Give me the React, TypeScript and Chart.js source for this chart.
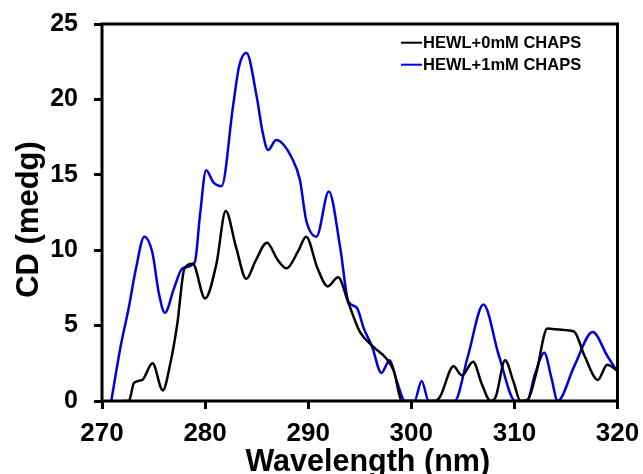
import React, { useEffect, useRef } from "react";
import { Chart, registerables } from "chart.js";

Chart.register(...registerables);

const seriesLabels = ["HEWL+0mM CHAPS", "HEWL+1mM CHAPS"];
const seriesColors = ["#000000", "#0000E0"];
const xTitle = "Wavelength (nm)";
const yTitle = "CD (medg)";

const xTicks = [270, 280, 290, 300, 310, 320];
const yTicks = [0, 5, 10, 15, 20, 25];

const blackWl = [272.0, 272.6, 273.1, 273.9, 274.9, 275.9, 276.6, 277.3, 278.0, 278.8, 280.0, 281.1, 282.0, 283.0, 284.0, 284.9, 286.0, 287.0, 287.9, 289.0, 289.8, 290.9, 291.9, 292.9, 293.9, 295.0, 296.3, 297.6, 298.3, 299.1, 300.5, 302.3, 302.8, 304.1, 304.9, 306.0, 306.8, 307.7, 308.2, 309.1, 309.9, 310.6, 311.3, 312.1, 313.2, 314.0, 315.0, 315.8, 316.8, 318.1, 319.0, 320.0];
const blackCd = [0, 0, 1.2, 1.4, 2.5, 0.7, 2.4, 5.1, 8.8, 9.1, 6.8, 9.1, 12.6, 10.2, 8.1, 9.3, 10.5, 9.4, 8.8, 9.9, 10.9, 8.8, 7.6, 8.2, 6.5, 4.6, 3.6, 2.8, 2.0, 0, 0, 0, 0.3, 2.3, 1.7, 2.6, 1.2, 0, 0.3, 2.7, 1.3, 0, 0.1, 1.8, 4.8, 4.75, 4.7, 4.6, 3.0, 1.4, 2.4, 2.0];

const blueWl = [270.9, 271.8, 272.6, 273.3, 274.1, 274.9, 275.5, 276.1, 277.0, 277.8, 279.0, 279.5, 280.1, 280.8, 281.6, 282.7, 283.3, 284.0, 285.0, 285.6, 286.1, 286.9, 288.5, 289.2, 289.8, 290.8, 292.0, 293.1, 293.9, 294.7, 295.4, 296.2, 297.1, 297.9, 298.6, 299.4, 300.3, 301.0, 301.7, 304.2, 305.5, 307.0, 308.5, 310.1, 311.2, 312.0, 312.9, 313.6, 314.2, 315.8, 317.6, 319.0, 320.0];
const blueCd = [0, 3.6, 6.2, 8.8, 10.9, 9.8, 7.2, 5.85, 7.5, 8.8, 9.2, 12.3, 15.3, 14.5, 14.25, 19.5, 22.2, 23.1, 20.2, 17.75, 16.65, 17.3, 16.0, 14.65, 12.0, 10.9, 13.9, 10.2, 6.6, 6.2, 4.8, 3.6, 1.86, 2.7, 1.3, 0, 0, 1.33, 0, 0, 3.0, 6.4, 3.0, 0, 0, 1.8, 3.2, 1.5, 0, 2.3, 4.58, 3.0, 1.93];

const FONT = '"Liberation Sans", Arial, sans-serif';

const boxLegendTitles = {
  id: "boxLegendTitles",
  afterDraw(chart: any) {
    const { ctx, chartArea } = chart;
    ctx.save();
    ctx.strokeStyle = "#000";
    ctx.lineWidth = 3;
    ctx.strokeRect(chartArea.left, chartArea.top, chartArea.right - chartArea.left, chartArea.bottom - chartArea.top);

    // legend
    const x0 = chartArea.right - 216.5;
    const rows = [chartArea.top + 18.7, chartArea.top + 40.7];
    ctx.font = `bold 16.5px ${FONT}`;
    ctx.textBaseline = "middle";
    ctx.textAlign = "left";
    chart.data.datasets.forEach((ds: any, i: number) => {
      const y = rows[i];
      ctx.strokeStyle = ds.borderColor;
      ctx.lineWidth = 2;
      ctx.beginPath();
      ctx.moveTo(x0, y);
      ctx.lineTo(x0 + 21, y);
      ctx.stroke();
      ctx.fillStyle = "#000";
      ctx.fillText(ds.label, x0 + 22, y + 1);
    });

    // axis titles
    ctx.fillStyle = "#000";
    ctx.textAlign = "center";
    ctx.textBaseline = "alphabetic";
    ctx.font = `bold 30.5px ${FONT}`;
    ctx.fillText(xTitle, chartArea.left + (chartArea.right - chartArea.left) / 2 + 8, 471);
    ctx.translate(37.5, chartArea.top + (chartArea.bottom - chartArea.top) / 2 + 7);
    ctx.rotate(-Math.PI / 2);
    ctx.font = `bold 31px ${FONT}`;
    ctx.fillText(yTitle, 0, 0);
    ctx.restore();
  },
};

export default function App() {
  const ref = useRef<HTMLCanvasElement>(null);
  useEffect(() => {
    if (!ref.current) return;
    const chart = new Chart(ref.current, {
      type: "line",
      data: {
        datasets: [
          {
            label: seriesLabels[0],
            data: blackWl.map((x, i) => ({ x, y: blackCd[i] })),
            borderColor: seriesColors[0],
            borderWidth: 2.5,
            pointRadius: 0,
            cubicInterpolationMode: "monotone",
            fill: false,
          },
          {
            label: seriesLabels[1],
            data: blueWl.map((x, i) => ({ x, y: blueCd[i] })),
            borderColor: seriesColors[1],
            borderWidth: 2.5,
            pointRadius: 0,
            cubicInterpolationMode: "monotone",
            fill: false,
          },
        ],
      },
      options: {
        animation: false,
        responsive: false,
        maintainAspectRatio: false,
        layout: { padding: { top: 24, right: 25.5, left: 0, bottom: 0 } },
        plugins: { legend: { display: false }, tooltip: { enabled: false } },
        scales: {
          x: {
            type: "linear",
            min: xTicks[0],
            max: xTicks[xTicks.length - 1],
            afterBuildTicks: (s: any) => { s.ticks = xTicks.map((v) => ({ value: v })); },
            afterFit: (s: any) => { s.height = 73; s.paddingLeft = 0; s.paddingRight = 0; },
            ticks: { color: "#000", font: { family: FONT, size: 26, weight: "bold" }, padding: 9, maxRotation: 0 },
            grid: { display: true, drawOnChartArea: false, drawTicks: true, tickLength: 8, lineWidth: 3, color: "#000" },
            border: { display: false },
            title: { display: false },
          },
          y: {
            type: "linear",
            min: yTicks[0],
            max: yTicks[yTicks.length - 1],
            afterBuildTicks: (s: any) => { s.ticks = yTicks.map((v) => ({ value: v })); },
            afterFit: (s: any) => { s.width = 102; s.paddingTop = 0; s.paddingBottom = 0; },
            ticks: { color: "#000", font: { family: FONT, size: 25, weight: "bold" }, padding: 16 },
            grid: { display: true, drawOnChartArea: false, drawTicks: true, tickLength: 8, lineWidth: 3, color: "#000" },
            border: { display: false },
            title: { display: false },
          },
        },
      },
      plugins: [boxLegendTitles],
    } as any);
    return () => chart.destroy();
  }, []);
  return (
    <div style={{ position: "fixed", left: 0, top: 0, width: 643, height: 474, background: "#fff" }}>
      <canvas ref={ref} width={643} height={474} style={{ width: 643, height: 474, display: "block" }} />
    </div>
  );
}
